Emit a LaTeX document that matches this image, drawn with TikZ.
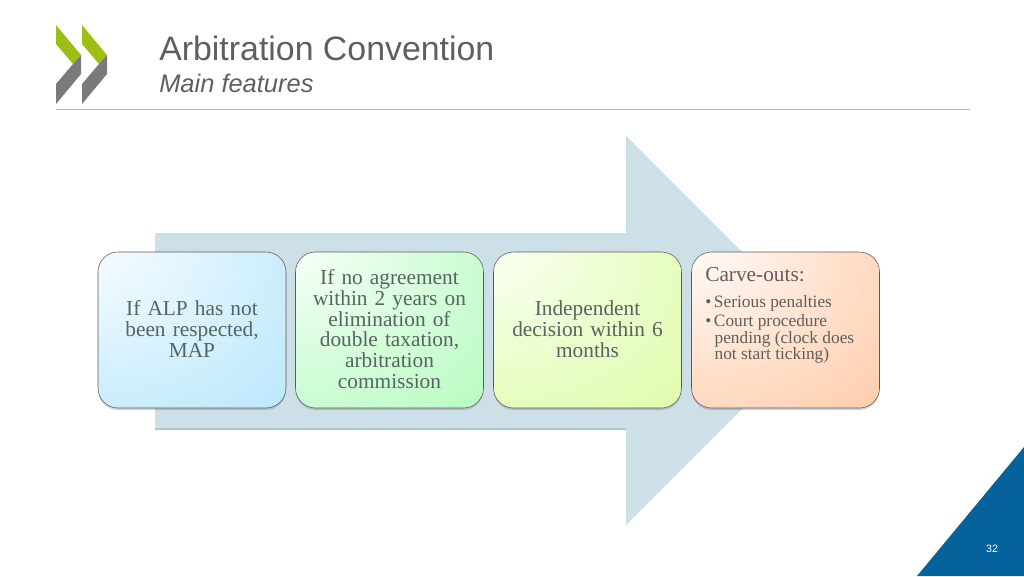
\documentclass[tikz,border=0pt]{standalone}
\usepackage{fontspec}
\usetikzlibrary{shadows}
\setmainfont{Liberation Serif}
\newfontfamily\headfont{Liberation Sans}
\definecolor{arrowblue}{HTML}{CDDFE7}
\definecolor{arrowedge}{HTML}{B4C2CA}
\definecolor{oecdgreen}{HTML}{9DBF15}
\definecolor{oecdgrey}{HTML}{7A7A7A}
\definecolor{oecdblue}{HTML}{05629B}
\definecolor{headgrey}{HTML}{5F5F5F}
\definecolor{cardtext}{HTML}{56655F}
\definecolor{peachtext}{HTML}{625E5A}
\definecolor{bluestart}{HTML}{F2FBFF}
\definecolor{blueend}{HTML}{B7E6FC}
\definecolor{greenstart}{HTML}{F3FFF4}
\definecolor{greenend}{HTML}{B4FBBE}
\definecolor{limestart}{HTML}{F8FFEE}
\definecolor{limeend}{HTML}{DDFCA6}
\definecolor{peachstart}{HTML}{FFF8F3}
\definecolor{peachend}{HTML}{FFC9A6}
\pgfdeclareradialshading{bluefill}{\pgfpoint{-33bp}{35bp}}{color(0bp)=(bluestart); color(10bp)=(bluestart); color(60bp)=(blueend); color(100bp)=(blueend)}
\pgfdeclareradialshading{greenfill}{\pgfpoint{-33bp}{35bp}}{color(0bp)=(greenstart); color(10bp)=(greenstart); color(60bp)=(greenend); color(100bp)=(greenend)}
\pgfdeclareradialshading{limefill}{\pgfpoint{-33bp}{35bp}}{color(0bp)=(limestart); color(10bp)=(limestart); color(60bp)=(limeend); color(100bp)=(limeend)}
\pgfdeclareradialshading{peachfill}{\pgfpoint{-33bp}{35bp}}{color(0bp)=(peachstart); color(10bp)=(peachstart); color(60bp)=(peachend); color(100bp)=(peachend)}
\tikzset{
  card/.style = {rectangle, rounded corners = 15pt, draw = black!65, line width = 0.4pt, minimum width = 141pt, minimum height = 117pt, inner sep = 3pt, align = center, text width = 132pt, font = \fontsize{16}{15.6}\selectfont, text = cardtext, execute at end node = {\par\vspace{1.5pt}}, drop shadow = {shadow xshift = 0pt, shadow yshift = -1.5pt, opacity = 0.35}},
  carvetext/.style = {inner sep = 0pt, text = peachtext, align = left},
  tail/.style = {fill = arrowblue, draw = none}
}
\begin{document}
\begin{tikzpicture}[x = 0.75pt, y = -0.75pt]
  \useasboundingbox (0, 0) rectangle (1024, 576);
  % logo
  \fill [oecdgreen] (56, 25) -- (81, 55) -- (73, 64) -- (56, 44) -- cycle;
  \fill [oecdgrey] (81, 55) -- (81, 74) -- (56, 104) -- (56, 84) -- (73, 64) -- cycle;
  \fill [oecdgreen] (82, 25) -- (107, 55) -- (99, 64) -- (82, 44) -- cycle;
  \fill [oecdgrey] (107, 55) -- (107, 74) -- (82, 104) -- (82, 84) -- (99, 64) -- cycle;
  % title
  \node (title) at (159, 48.5) [anchor = west, inner sep = 0pt, text = headgrey, font = \headfont\fontsize{25.4}{30}\selectfont] {Arbitration Convention};
  \node (subtitle) at (159, 83.5) [anchor = west, inner sep = 0pt, text = headgrey, font = \headfont\itshape\fontsize{19.1}{22}\selectfont] {Main features};
  \coordinate (ruleleft) at (56, 109.5);
  \coordinate (ruleright) at (970, 109.5);
  \draw [black!30, line width = 0.6pt] (ruleleft) -- (ruleright);
  % big arrow behind the cards
  \fill [arrowedge] (155, 233) -- (155, 430) -- (626, 430) -- (626, 428) -- cycle;
  \fill [tail] (155, 233) -- (626, 233) -- (626, 136) -- (820.5, 330.5) -- (626, 525) -- (626, 428) -- (155, 428) -- cycle;
  % cards
  \node (alp) at (192, 330) [card, shade, shading = bluefill] {If ALP has not\\been respected,\\MAP};
  \node (commission) at (389.5, 330) [card, shade, shading = greenfill] {If no agreement\\within 2 years on\\elimination of\\double taxation,\\arbitration\\commission};
  \node (decision) at (587.5, 330) [card, shade, shading = limefill] {Independent\\decision within 6\\months};
  \node (carve) at (785.5, 330) [card, shade, shading = peachfill] {};
  \node (carvehead) at (705, 275) [anchor = west, carvetext, font = \fontsize{16}{15.6}\selectfont] {Carve-outs:};
  \node (carvelist) at (705, 295) [anchor = north west, carvetext, font = \fontsize{13}{12.4}\selectfont] {\textbullet\hspace{2pt}Serious penalties\\[2pt]\textbullet\hspace{2pt}Court procedure\\\hspace{7pt}pending (clock does\\\hspace{7pt}not start ticking)};
  % page corner
  \fill [oecdblue] (1024, 447) -- (1024, 576) -- (917, 576) -- cycle;
  \node (pagenum) at (992, 549) [inner sep = 0pt, text = white, font = \headfont\fontsize{8}{10}\selectfont] {32};
\end{tikzpicture}
\end{document}
